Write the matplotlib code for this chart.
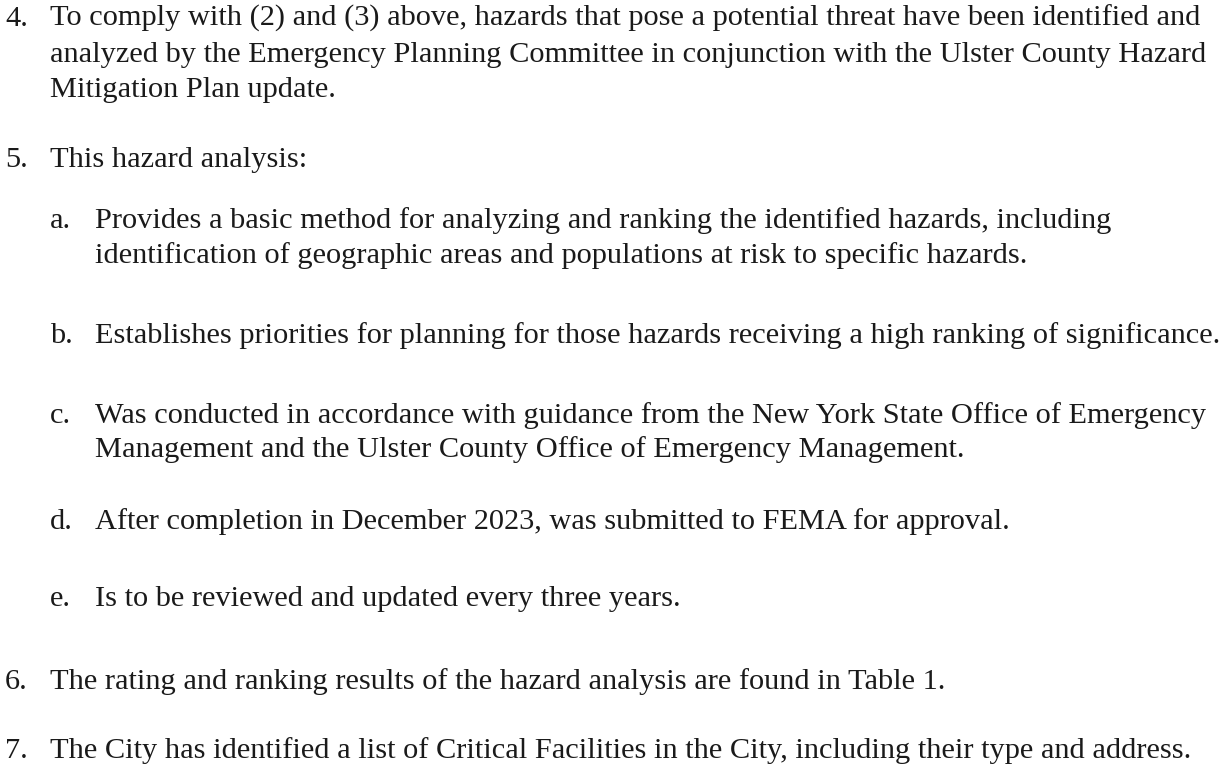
import matplotlib.pyplot as plt

# text of the page, one entry per printed line
labels = ['4.', '', '', '5.', 'a.', '', 'b.', 'c.', '', 'd.', 'e.', '6.', '7.']
lines = [
    'To comply with (2) and (3) above, hazards that pose a potential threat have been identified and',
    'analyzed by the Emergency Planning Committee in conjunction with the Ulster County Hazard',
    'Mitigation Plan update.',
    'This hazard analysis:',
    'Provides a basic method for analyzing and ranking the identified hazards, including',
    'identification of geographic areas and populations at risk to specific hazards.',
    'Establishes priorities for planning for those hazards receiving a high ranking of significance.',
    'Was conducted in accordance with guidance from the New York State Office of Emergency',
    'Management and the Ulster County Office of Emergency Management.',
    'After completion in December 2023, was submitted to FEMA for approval.',
    'Is to be reviewed and updated every three years.',
    'The rating and ranking results of the hazard analysis are found in Table 1.',
    'The City has identified a list of Critical Facilities in the City, including their type and address.',
]
level = [0, 0, 0, 0, 1, 1, 1, 1, 1, 1, 1, 0, 0]

# layout (pixels)
base_y = [26, 62, 97, 167, 228, 263, 343, 423, 457, 529, 606, 689, 758]
lab_x = {0: 5, 1: 50}
txt_x = {0: 50, 1: 95}

fig = plt.figure(figsize=(12.24, 7.67), dpi=100)
ax = fig.add_axes([0, 0, 1, 1])
ax.set_xlim(0, 1224); ax.set_ylim(767, 0); ax.axis('off')

fs = 21.9
col = '#1a1a1a'
for lab, s, lv, y in zip(labels, lines, level, base_y):
    if lab:
        ax.text(lab_x[lv], y, lab, fontsize=fs, family='Liberation Serif', color=col, va='baseline')
    ax.text(txt_x[lv], y, s, fontsize=fs, family='Liberation Serif', color=col, va='baseline')

fig.savefig('out.png', dpi=100, facecolor='white')
